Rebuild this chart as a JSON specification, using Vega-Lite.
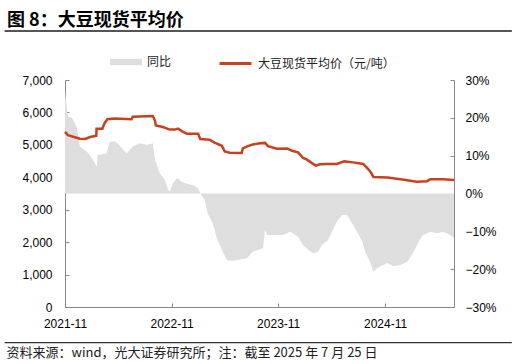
{
  "$schema": "https://vega.github.io/schema/vega-lite/v6.json",
  "width": 389,
  "height": 227,
  "autosize": {"type": "none"},
  "padding": {"left": 65, "top": 80, "right": 62, "bottom": 57},
  "background": "white",
  "config": {
    "view": {"stroke": null},
    "axis": {"labelFont": "Liberation Sans", "labelFontSize": 12, "labelColor": "#000", "domainColor": "#888", "tickColor": "#888", "grid": false},
    "legend": {"labelFont": "Noto Sans CJK SC", "labelFontSize": 12, "labelColor": "#222"}
  },
  "title": {"text": "图 8：大豆现货平均价", "anchor": "start", "frame": "group", "font": "Noto Sans CJK SC", "fontSize": 18, "fontWeight": "bold", "color": "#000", "dx": -58, "dy": 4},
  "datasets": {
    "price": [
      {"date": "2021-11-01", "value": 5400},
      {"date": "2021-11-11", "value": 5300},
      {"date": "2021-12-22", "value": 5190},
      {"date": "2022-01-09", "value": 5180},
      {"date": "2022-01-26", "value": 5240},
      {"date": "2022-02-12", "value": 5270},
      {"date": "2022-02-16", "value": 5280},
      {"date": "2022-02-17", "value": 5500},
      {"date": "2022-03-09", "value": 5500},
      {"date": "2022-03-16", "value": 5660},
      {"date": "2022-03-26", "value": 5790},
      {"date": "2022-04-20", "value": 5810},
      {"date": "2022-06-17", "value": 5790},
      {"date": "2022-06-21", "value": 5870},
      {"date": "2022-08-29", "value": 5890},
      {"date": "2022-09-05", "value": 5750},
      {"date": "2022-09-08", "value": 5600},
      {"date": "2022-10-02", "value": 5550},
      {"date": "2022-10-26", "value": 5470},
      {"date": "2022-11-12", "value": 5470},
      {"date": "2022-11-23", "value": 5500},
      {"date": "2022-12-10", "value": 5400},
      {"date": "2022-12-24", "value": 5340},
      {"date": "2023-01-31", "value": 5340},
      {"date": "2023-02-07", "value": 5180},
      {"date": "2023-03-11", "value": 5160},
      {"date": "2023-03-28", "value": 5070},
      {"date": "2023-04-22", "value": 4970},
      {"date": "2023-05-02", "value": 4800},
      {"date": "2023-05-19", "value": 4760},
      {"date": "2023-06-29", "value": 4750},
      {"date": "2023-07-03", "value": 4890},
      {"date": "2023-07-20", "value": 4960},
      {"date": "2023-08-06", "value": 5010},
      {"date": "2023-08-31", "value": 5050},
      {"date": "2023-09-17", "value": 5060},
      {"date": "2023-09-27", "value": 4960},
      {"date": "2023-10-28", "value": 4880},
      {"date": "2023-12-01", "value": 4890},
      {"date": "2023-12-18", "value": 4820},
      {"date": "2024-01-08", "value": 4770},
      {"date": "2024-01-25", "value": 4600},
      {"date": "2024-02-05", "value": 4560},
      {"date": "2024-02-26", "value": 4430},
      {"date": "2024-03-09", "value": 4360},
      {"date": "2024-03-23", "value": 4400},
      {"date": "2024-04-16", "value": 4410},
      {"date": "2024-05-20", "value": 4410},
      {"date": "2024-06-14", "value": 4490},
      {"date": "2024-07-14", "value": 4460},
      {"date": "2024-08-18", "value": 4410},
      {"date": "2024-09-01", "value": 4280},
      {"date": "2024-09-12", "value": 4170},
      {"date": "2024-09-22", "value": 4010},
      {"date": "2024-11-09", "value": 3990},
      {"date": "2024-12-24", "value": 3940},
      {"date": "2025-01-27", "value": 3890},
      {"date": "2025-02-17", "value": 3860},
      {"date": "2025-03-25", "value": 3880},
      {"date": "2025-04-05", "value": 3940},
      {"date": "2025-05-19", "value": 3940},
      {"date": "2025-06-25", "value": 3920}
    ],
    "yoy": [
      {"date": "2021-11-01", "value": 0.27},
      {"date": "2021-11-04", "value": 0.25},
      {"date": "2021-11-11", "value": 0.203},
      {"date": "2021-11-25", "value": 0.20},
      {"date": "2021-12-12", "value": 0.173},
      {"date": "2021-12-22", "value": 0.124},
      {"date": "2022-01-16", "value": 0.11},
      {"date": "2022-02-05", "value": 0.089},
      {"date": "2022-02-18", "value": 0.071},
      {"date": "2022-02-21", "value": 0.102},
      {"date": "2022-03-23", "value": 0.106},
      {"date": "2022-04-03", "value": 0.137},
      {"date": "2022-04-20", "value": 0.138},
      {"date": "2022-04-30", "value": 0.133},
      {"date": "2022-05-31", "value": 0.106},
      {"date": "2022-06-21", "value": 0.124},
      {"date": "2022-07-15", "value": 0.133},
      {"date": "2022-08-08", "value": 0.128},
      {"date": "2022-08-29", "value": 0.133},
      {"date": "2022-09-05", "value": 0.089},
      {"date": "2022-09-22", "value": 0.053},
      {"date": "2022-10-09", "value": 0.036},
      {"date": "2022-10-20", "value": 0.009},
      {"date": "2022-10-26", "value": 0.005},
      {"date": "2022-11-06", "value": 0.027},
      {"date": "2022-11-20", "value": 0.041},
      {"date": "2022-12-06", "value": 0.031},
      {"date": "2022-12-24", "value": 0.026},
      {"date": "2023-01-14", "value": 0.022},
      {"date": "2023-01-31", "value": 0.014},
      {"date": "2023-02-07", "value": 0.0},
      {"date": "2023-02-23", "value": -0.017},
      {"date": "2023-03-04", "value": -0.052},
      {"date": "2023-03-22", "value": -0.079},
      {"date": "2023-04-05", "value": -0.118},
      {"date": "2023-04-22", "value": -0.149},
      {"date": "2023-05-09", "value": -0.176},
      {"date": "2023-05-30", "value": -0.178},
      {"date": "2023-07-17", "value": -0.171},
      {"date": "2023-08-06", "value": -0.154},
      {"date": "2023-09-10", "value": -0.145},
      {"date": "2023-09-17", "value": -0.096},
      {"date": "2023-09-24", "value": -0.11},
      {"date": "2023-11-18", "value": -0.11},
      {"date": "2023-12-12", "value": -0.101},
      {"date": "2023-12-22", "value": -0.105},
      {"date": "2024-01-08", "value": -0.114},
      {"date": "2024-01-25", "value": -0.136},
      {"date": "2024-02-12", "value": -0.149},
      {"date": "2024-02-28", "value": -0.158},
      {"date": "2024-03-16", "value": -0.154},
      {"date": "2024-03-30", "value": -0.136},
      {"date": "2024-04-20", "value": -0.123},
      {"date": "2024-05-03", "value": -0.101},
      {"date": "2024-05-20", "value": -0.074},
      {"date": "2024-06-07", "value": -0.057},
      {"date": "2024-06-24", "value": -0.057},
      {"date": "2024-07-04", "value": -0.07},
      {"date": "2024-07-28", "value": -0.101},
      {"date": "2024-08-15", "value": -0.127},
      {"date": "2024-08-25", "value": -0.154},
      {"date": "2024-09-12", "value": -0.184},
      {"date": "2024-09-22", "value": -0.207},
      {"date": "2024-10-09", "value": -0.195},
      {"date": "2024-11-09", "value": -0.184},
      {"date": "2024-11-30", "value": -0.192},
      {"date": "2024-12-24", "value": -0.189},
      {"date": "2025-01-17", "value": -0.18},
      {"date": "2025-02-07", "value": -0.154},
      {"date": "2025-02-24", "value": -0.127},
      {"date": "2025-03-11", "value": -0.11},
      {"date": "2025-04-05", "value": -0.101},
      {"date": "2025-04-29", "value": -0.105},
      {"date": "2025-05-19", "value": -0.101},
      {"date": "2025-06-12", "value": -0.11},
      {"date": "2025-06-25", "value": -0.118}
    ]
  },
  "layer": [
    {
      "data": {"name": "yoy"},
      "mark": {"type": "area", "opacity": 1, "interpolate": "linear"},
      "encoding": {
        "x": {
          "field": "date", "type": "temporal",
          "scale": {"type": "utc", "domain": [{"year": 2021, "month": 11, "date": 1, "utc": true}, {"year": 2025, "month": 6, "date": 25, "utc": true}]},
          "axis": {
            "values": [{"year": 2021, "month": 11, "date": 1, "utc": true}, {"year": 2022, "month": 11, "date": 1, "utc": true}, {"year": 2023, "month": 11, "date": 1, "utc": true}, {"year": 2024, "month": 11, "date": 1, "utc": true}],
            "format": "%Y-%m", "tickSize": -4, "labelPadding": 15, "labelFlush": false,
            "title": "资料来源：wind，光大证券研究所；注：截至 2025 年 7 月 25 日",
            "titleX": -59, "titleY": 45, "titleAlign": "left", "titleBaseline": "middle", "titleAnchor": "start",
            "titleFont": "Noto Sans CJK SC", "titleFontSize": 13, "titleFontWeight": "normal", "titleColor": "#222"
          }
        },
        "y": {
          "field": "value", "type": "quantitative",
          "scale": {"domain": [-0.3, 0.3], "nice": false, "zero": false},
          "axis": {"orient": "right", "values": [-0.3, -0.2, -0.1, 0, 0.1, 0.2, 0.3], "format": ".0%", "tickSize": -4, "labelPadding": 15, "title": null}
        },
        "fill": {
          "datum": "同比", "type": "nominal",
          "scale": {"range": ["#dedede"]},
          "legend": {"orient": "none", "legendX": 45, "legendY": -34, "symbolType": "M-1,-0.2H1V0.2H-1Z", "symbolSize": 1024, "symbolStrokeWidth": 0, "title": null, "labelOffset": 5}
        }
      }
    },
    {
      "data": {"name": "price"},
      "mark": {"type": "line", "strokeWidth": 2.5, "interpolate": "linear"},
      "encoding": {
        "x": {
          "field": "date", "type": "temporal",
          "scale": {"type": "utc", "domain": [{"year": 2021, "month": 11, "date": 1, "utc": true}, {"year": 2025, "month": 6, "date": 25, "utc": true}]}
        },
        "y": {
          "field": "value", "type": "quantitative",
          "scale": {"domain": [0, 7000], "nice": false},
          "axis": {"orient": "left", "values": [0, 1000, 2000, 3000, 4000, 5000, 6000, 7000], "format": ",.0f", "tickSize": -4, "labelPadding": 17, "title": null}
        },
        "stroke": {
          "datum": "大豆现货平均价（元/吨）", "type": "nominal",
          "scale": {"range": ["#c9401f"]},
          "legend": {"orient": "none", "legendX": 153, "legendY": -34, "symbolType": "stroke", "symbolSize": 1024, "symbolStrokeWidth": 3, "title": null, "labelOffset": 5}
        }
      }
    },
    {
      "data": {"values": [{}]},
      "mark": {"type": "rule", "color": "#555", "strokeWidth": 2},
      "encoding": {
        "x": {"datum": {"year": 2021, "month": 4, "date": 8, "utc": true}, "type": "temporal", "scale": {"type": "utc", "domain": [{"year": 2021, "month": 11, "date": 1, "utc": true}, {"year": 2025, "month": 6, "date": 25, "utc": true}]}},
        "x2": {"datum": {"year": 2026, "month": 1, "date": 9, "utc": true}},
        "y": {"datum": 8511, "type": "quantitative", "scale": {"domain": [0, 7000], "nice": false}, "axis": null}
      }
    },
    {
      "data": {"values": [{}]},
      "mark": {"type": "rule", "color": "#333", "strokeWidth": 1.3},
      "encoding": {
        "x": {"datum": {"year": 2021, "month": 4, "date": 8, "utc": true}, "type": "temporal", "scale": {"type": "utc", "domain": [{"year": 2021, "month": 11, "date": 1, "utc": true}, {"year": 2025, "month": 6, "date": 25, "utc": true}]}},
        "x2": {"datum": {"year": 2026, "month": 1, "date": 9, "utc": true}},
        "y": {"datum": -1101, "type": "quantitative", "scale": {"domain": [0, 7000], "nice": false}, "axis": null}
      }
    }
  ],
  "resolve": {"scale": {"y": "independent", "fill": "independent", "stroke": "independent"}}
}
